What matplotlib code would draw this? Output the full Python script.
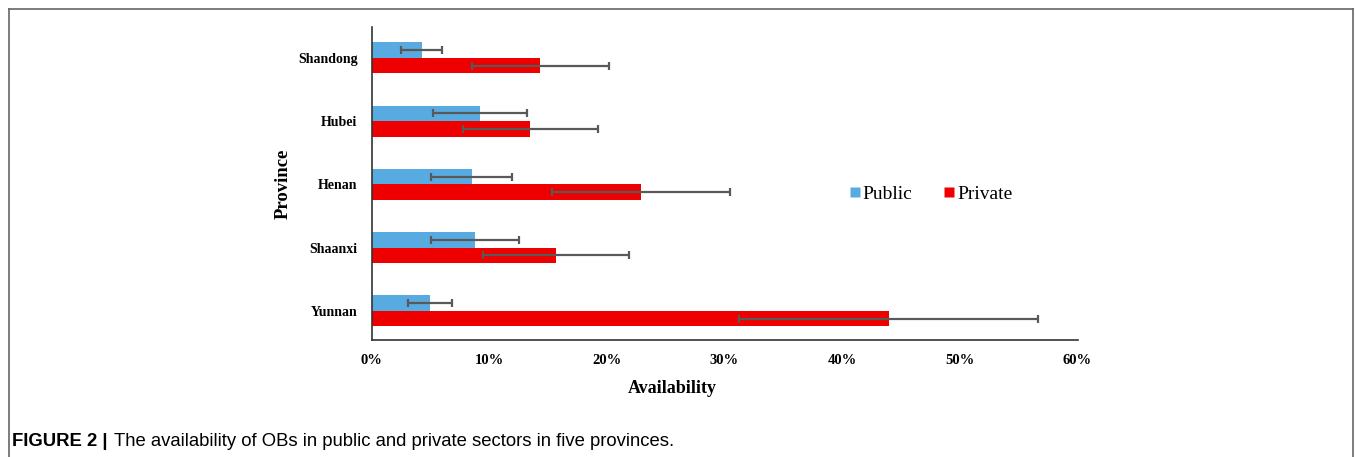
import numpy as np
import matplotlib.pyplot as plt
from matplotlib.lines import Line2D

provinces = ['Yunnan', 'Shaanxi', 'Henan', 'Hubei', 'Shandong']
public = [4.97, 8.8, 8.53, 9.24, 4.26]
public_err = [1.9, 3.75, 3.45, 4.0, 1.74]
private = [43.95, 15.7, 22.9, 13.5, 14.35]
private_err = [12.7, 6.2, 7.6, 5.75, 5.8]
xticks = [0, 10, 20, 30, 40, 50, 60]

serif = 'Liberation Serif'
sans = 'Liberation Sans'

fig = plt.figure(figsize=(13.55, 4.57), dpi=100)
ax = fig.add_axes([371.5 / 1355, 117 / 457, 706 / 1355, 313 / 457])

y = np.arange(len(provinces))
h = 0.245
err_kw = dict(ecolor='#595959', elinewidth=1.6, capsize=3, capthick=1.6)
ax.barh(y + h / 2, public, height=h, color='#58ABE0', xerr=public_err,
        error_kw=err_kw, label='Public')
ax.barh(y - h / 2, private, height=h, color='#EE0000', xerr=private_err,
        error_kw=err_kw, label='Private')

ax.set_xlim(0, 60)
ax.set_ylim(-0.46, 4.49)
ax.set_xticks(xticks)
ax.set_xticklabels([f'{t}%' for t in xticks], fontfamily=serif,
                   fontweight='bold', fontsize=10.5)
ax.set_yticks(y)
ax.set_yticklabels(provinces, fontfamily=serif, fontweight='bold', fontsize=10)
ax.tick_params(length=0, pad=10)
ax.tick_params(axis='x', pad=10)
for s in ['top', 'right']:
    ax.spines[s].set_visible(False)
for s in ['left', 'bottom']:
    ax.spines[s].set_color('#333333')
    ax.spines[s].set_linewidth(1.2)

ax.set_xlabel('Availability', fontfamily=serif, fontweight='bold', fontsize=13)
ax.xaxis.set_label_coords((672 - 371.5) / 706, -0.127)
ax.set_ylabel('Province', fontfamily=serif, fontweight='bold', fontsize=13.5)
ax.yaxis.set_label_coords((292 - 371.5) / 706, 0.5)

handles = [Line2D([], [], marker='s', color='none', markerfacecolor='#58ABE0',
                  markeredgecolor='none', markersize=7),
           Line2D([], [], marker='s', color='none', markerfacecolor='#EE0000',
                  markeredgecolor='none', markersize=7)]
ax.legend(handles, ['Public', 'Private'], ncol=2, frameon=False,
          loc='center left', bbox_to_anchor=((849 - 371.5) / 706, 0.466),
          borderaxespad=0, borderpad=0,
          prop={'family': serif, 'size': 14}, handletextpad=0.1,
          columnspacing=1.6, handlelength=0.6)

# surrounding frame
fig.add_artist(Line2D([9 / 1355, 9 / 1355], [0, 1 - 9 / 457], color='#666666', lw=1.2))
fig.add_artist(Line2D([9 / 1355, 1353 / 1355], [1 - 9 / 457, 1 - 9 / 457], color='#666666', lw=1.2))
fig.add_artist(Line2D([1353 / 1355, 1353 / 1355], [0, 1 - 9 / 457], color='#666666', lw=1.2))

cap = fig.text(12 / 1355, 1 - 442 / 457, 'FIGURE 2 |', fontfamily=sans,
               fontweight='bold', fontsize=13.3, va='center')
fig.canvas.draw()
x_end = cap.get_window_extent().x1
fig.text((x_end + 7) / 1355, 1 - 442 / 457,
         'The availability of OBs in public and private sectors in five provinces.',
         fontfamily=sans, fontsize=13.3, va='center')

fig.savefig('out.png', dpi=100)
